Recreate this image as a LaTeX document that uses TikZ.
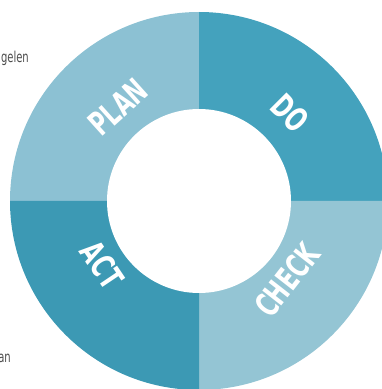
\documentclass[tikz,border=0pt]{standalone}
\usepackage{fontspec}
\usetikzlibrary{calc}
\newfontfamily\cyclefont{DejaVu Sans Condensed}[FakeStretch=0.74]

\definecolor{planblue}{RGB}{140,193,211}
\definecolor{doblue}{RGB}{68,162,189}
\definecolor{checkblue}{RGB}{148,197,212}
\definecolor{actblue}{RGB}{60,153,180}

\begin{document}
\begin{tikzpicture}[x=1pt, y=1pt]

    \tikzset{%
    every quadrant/.style={
        draw=none
        },
    every stage/.style={
        text=white,
        inner sep=0pt,
        font=\cyclefont\bfseries\fontsize{33}{33}\selectfont
        },
    side text/.style={
        anchor=east,
        inner sep=0pt,
        text=black!70,
        font=\cyclefont\fontsize{15}{15}\selectfont
        },
    }

    \useasboundingbox (0,0) rectangle (382,389);
    \clip (0,0) rectangle (382,389);

    \coordinate (centre) at (199,188);

    % Four quadrants of the ring
    \foreach \a/\c in {90/planblue, 0/doblue, 270/checkblue, 180/actblue}
    \fill [every quadrant/.try, fill=\c] (centre) -- ++(\a:189)
        arc [start angle=\a, end angle=\a+90, radius=189] -- cycle;

    % Hole in the middle
    \fill [white] (centre) circle [radius=92];

    % Stage labels
    \node [every stage/.try, rotate=42]  (plan)  at ($(centre)+(-81,94)$)  {PLAN};
    \node [every stage/.try, rotate=-45] (do)    at ($(centre)+(91,88)$)   {DO};
    \node [every stage/.try, rotate=52]  (check) at ($(centre)+(88,-79)$)  {CHECK};
    \node [every stage/.try, rotate=-56] (act)   at ($(centre)+(-97,-64)$) {ACT};

    % Cut-off words of the page text
    \node [side text] (gelen) at (29,331) {gelen};
    \node [side text] (an)    at (11,31)  {an};

\end{tikzpicture}
\end{document}
